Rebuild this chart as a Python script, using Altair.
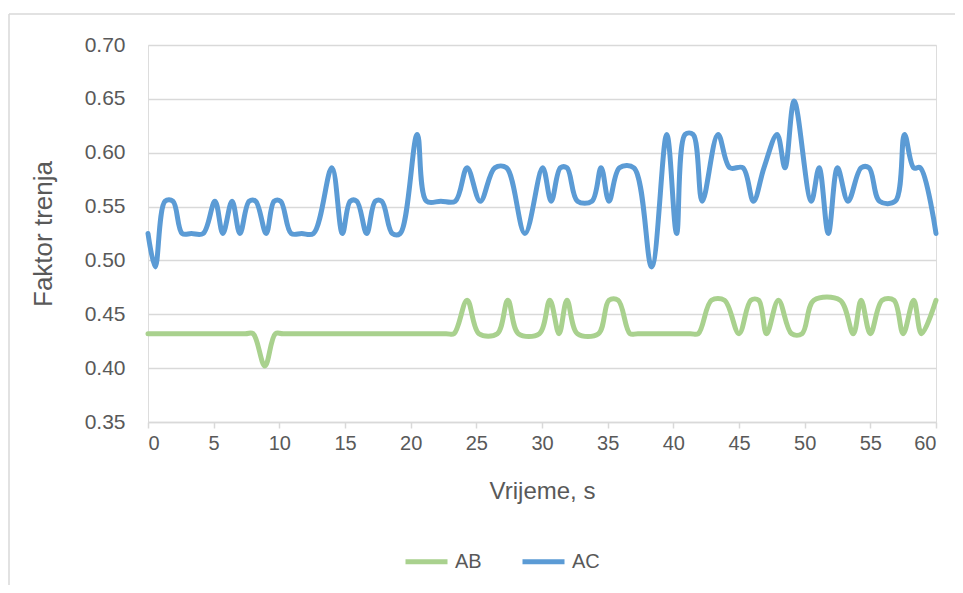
import altair as alt
import pandas as pd

# ---- data ----
ab_t = [0.0, 7.4, 8.0, 8.9, 9.7, 10.3, 22.7, 23.3, 24.3, 25.2, 26.6, 27.4, 28.2, 29.8,
        30.6, 31.3, 31.9, 32.7, 34.3, 35.1, 35.8, 36.7, 37.3, 41.3, 41.9, 42.9, 43.9,
        45.0, 45.9, 46.5, 47.1, 48.0, 49.0, 49.8, 50.7, 52.7, 53.7, 54.3, 55.0, 55.9,
        56.8, 57.5, 58.3, 58.9, 60.0]
ab_v = [0.432, 0.432, 0.432, 0.402, 0.432, 0.432, 0.432, 0.432, 0.463, 0.432, 0.432, 0.463, 0.432, 0.432,
        0.463, 0.432, 0.463, 0.432, 0.432, 0.463, 0.463, 0.432, 0.432, 0.432, 0.432, 0.463, 0.463,
        0.432, 0.463, 0.463, 0.432, 0.463, 0.432, 0.432, 0.463, 0.463, 0.432, 0.463, 0.432, 0.463,
        0.463, 0.432, 0.463, 0.432, 0.463]

ac_t = [0.0, 0.55, 1.3, 1.9, 2.6, 3.3, 4.2, 5.1, 5.7, 6.4, 7.0, 7.7, 8.2, 9.0, 9.6, 10.1,
        10.9, 11.7, 12.6, 14.0, 14.8, 15.4, 15.9, 16.65, 17.3, 17.8, 18.6, 19.2, 20.5,
        21.2, 22.3, 23.4, 24.3, 25.3, 26.4, 27.3, 28.7, 30.05, 30.7, 31.4, 31.9, 32.7,
        33.8, 34.5, 35.1, 35.9, 37.0, 38.35, 39.5, 40.25, 40.9, 41.5, 42.2, 43.4, 44.3,
        45.3, 46.1, 46.9, 47.9, 48.5, 49.2, 50.5, 51.1, 51.8, 52.5, 53.3, 54.3, 54.9,
        55.7, 56.9, 57.6, 58.3, 58.8, 60.0]
ac_v = [0.525, 0.494, 0.555, 0.555, 0.525, 0.525, 0.525, 0.555, 0.525, 0.555, 0.525, 0.555, 0.555, 0.525, 0.555, 0.555,
        0.525, 0.525, 0.525, 0.586, 0.525, 0.555, 0.555, 0.525, 0.555, 0.555, 0.525, 0.525, 0.617,
        0.555, 0.555, 0.555, 0.586, 0.555, 0.586, 0.586, 0.525, 0.586, 0.555, 0.586, 0.586, 0.555,
        0.555, 0.586, 0.555, 0.586, 0.586, 0.494, 0.617, 0.525, 0.617, 0.617, 0.555, 0.617, 0.586,
        0.586, 0.555, 0.586, 0.617, 0.586, 0.648, 0.555, 0.586, 0.525, 0.586, 0.555, 0.586, 0.586,
        0.555, 0.555, 0.617, 0.586, 0.586, 0.525]

series_names = ["AB", "AC"]
series_colors = ["#A9D18E", "#5B9BD5"]
x_ticks = [0, 5, 10, 15, 20, 25, 30, 35, 40, 45, 50, 55, 60]
y_ticks = [0.35, 0.40, 0.45, 0.50, 0.55, 0.60, 0.65, 0.70]

df = pd.concat([
    pd.DataFrame({"t": ab_t, "v": ab_v, "series": "AB", "ord": range(len(ab_t))}),
    pd.DataFrame({"t": ac_t, "v": ac_v, "series": "AC", "ord": range(len(ac_t))}),
])

FONT = "Liberation Sans"
TXT = "#595959"
GRID = "#d9d9d9"

lines = alt.Chart(df).mark_line(
    interpolate="catmull-rom", strokeWidth=5, strokeCap="round", strokeJoin="round"
).encode(
    x=alt.X("t:Q", scale=alt.Scale(domain=[0, 60], nice=False, zero=False),
            axis=alt.Axis(values=x_ticks, title="Vrijeme, s", grid=False,
                          domainColor=GRID, domainWidth=1.5, tickColor=GRID, tickWidth=1.5,
                          tickSize=6, labelPadding=5, labelFontSize=20, labelColor=TXT,
                          labelFont=FONT, titleFont=FONT, titleFontSize=24,
                          titleFontWeight="normal", titleColor=TXT, titlePadding=26)),
    y=alt.Y("v:Q", scale=alt.Scale(domain=[0.35, 0.70], nice=False, zero=False),
            axis=alt.Axis(values=y_ticks, format=".2f", title="Faktor trenja",
                          grid=True, gridColor=GRID, gridWidth=1.5, domain=False, ticks=False,
                          labelPadding=23, labelFontSize=21, labelColor=TXT, labelFont=FONT,
                          titleFont=FONT, titleFontSize=26, titleFontWeight="normal",
                          titleColor=TXT, titlePadding=28)),
    color=alt.Color("series:N", scale=alt.Scale(domain=series_names, range=series_colors),
                    legend=alt.Legend(title=None, orient="none", direction="horizontal",
                                      legendX=255, legendY=493, symbolType="stroke",
                                      symbolSize=1764, symbolStrokeWidth=5,
                                      labelFontSize=20, labelFont=FONT, labelColor=TXT,
                                      labelOffset=5, columnPadding=30)),
    order="ord:Q",
)

frame_src = pd.DataFrame({"a": [0]})
frame_top = alt.Chart(frame_src).mark_rule(stroke=GRID, strokeWidth=1.5).encode(
    x=alt.value(-139), x2=alt.value(900), y=alt.value(-31)
)
frame_left = alt.Chart(frame_src).mark_rule(stroke=GRID, strokeWidth=1.5).encode(
    x=alt.value(-139), y=alt.value(-31), y2=alt.value(600)
)

chart = alt.layer(frame_top, frame_left, lines).properties(
    width=788, height=377,
    autosize=alt.AutoSizeParams(type="none"),
    padding={"left": 140, "top": 37, "right": 19, "bottom": 163},
).configure_view(stroke=None).configure(background="white")

chart.save("out.html", embed_options={"renderer": "svg", "actions": False})
